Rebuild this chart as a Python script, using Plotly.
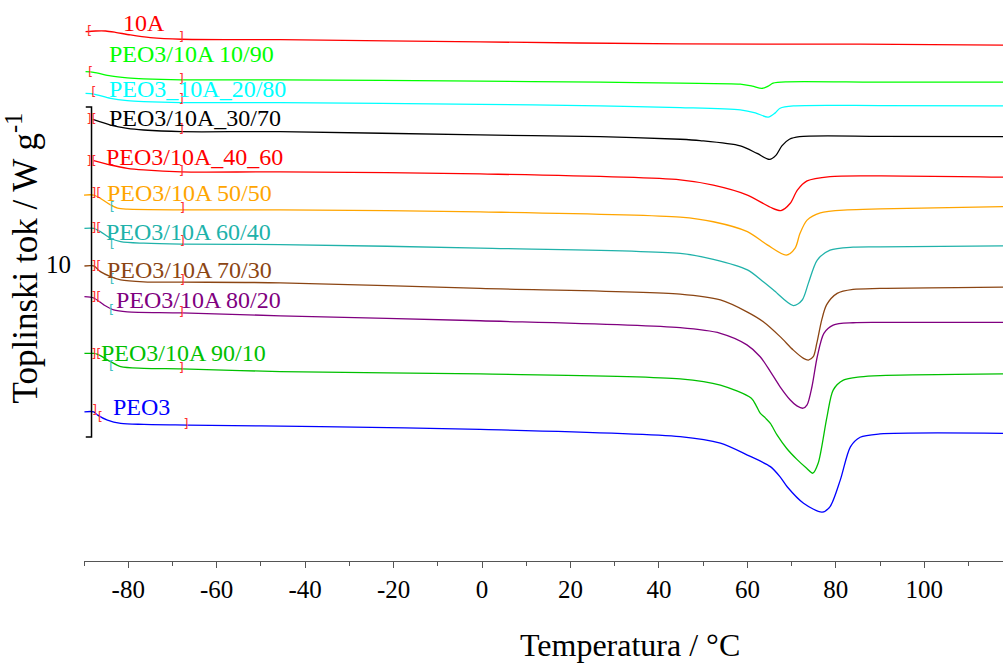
import plotly.graph_objects as go

# ---------------- data ----------------
names = ["10A", "PEO3/10A 10/90", "PEO3_10A_20/80", "PEO3/10A_30/70", "PEO3/10A_40_60",
         "PEO3/10A 50/50", "PEO3/10A 60/40", "PEO3/10A 70/30", "PEO3/10A 80/20",
         "PEO3/10A 90/10", "PEO3"]
colors = ["#FF0000", "#00FF00", "#00FFFF", "#000000", "#FF0000",
          "#FFA500", "#20B2AA", "#8B4513", "#800080", "#00C000", "#0000FF"]

# temperature (°C) and stacked heat flow (W/g, offset) for each curve
T_10A = [-89.65, -87.4, -85.1, -82.9, -79.5, -75.0, -68.0, -45.6, -0.4, 44.8, 85.5, 117.8]
Y_10A = [16.04, 16.06, 16.06, 16.02, 15.94, 15.86, 15.81, 15.80, 15.73, 15.67, 15.66, 15.63]

T_1090 = [-89.65, -87.8, -84.0, -80.2, -76.5, -68.0, -45.6, -0.4, 26.7, 44.8, 58.4, 61.1, 63.3, 64.7, 65.8, 69.0, 90.0, 117.8]
Y_1090 = [14.83, 14.81, 14.70, 14.64, 14.61, 14.58, 14.58, 14.54, 14.51, 14.48, 14.45, 14.39, 14.32, 14.39, 14.48, 14.52, 14.51, 14.51]

T_2080 = [-89.65, -87.8, -84.0, -80.2, -76.5, -68.0, -45.6, -0.4, 26.7, 44.8, 58.4, 61.8, 64.7, 66.3, 67.4, 70.4, 90.0, 117.8]
Y_2080 = [14.17, 14.15, 14.02, 13.95, 13.92, 13.89, 13.89, 13.84, 13.79, 13.74, 13.67, 13.58, 13.45, 13.58, 13.72, 13.79, 13.80, 13.79]

T_3070 = [-88.0, -84.0, -80.2, -76.5, -68.0, -45.6, -0.4, 26.7, 44.8, 49.3, 58.4, 62.2, 65.0, 66.5, 67.8, 69.5, 71.8, 90.0, 117.8]
Y_3070 = [13.38, 13.21, 13.11, 13.06, 13.01, 13.01, 12.91, 12.86, 12.78, 12.74, 12.58, 12.35, 12.17, 12.30, 12.58, 12.78, 12.86, 12.87, 12.86]

T_4060 = [-87.8, -84.0, -80.2, -76.5, -68.0, -45.6, -0.4, 44.8, 52.3, 60.0, 65.2, 67.6, 69.7, 71.3, 73.5, 78.7, 90.0, 117.8]
Y_4060 = [12.13, 12.00, 11.90, 11.85, 11.79, 11.79, 11.73, 11.55, 11.39, 11.09, 10.72, 10.62, 10.84, 11.24, 11.52, 11.65, 11.67, 11.63]

T_5050 = [-90.0, -87.8, -86.3, -84.0, -82.4, -80.2, -68.0, -45.6, -0.4, 44.8, 52.3, 60.0, 64.5, 68.8, 70.8, 71.9, 73.5, 76.5, 82.6, 90.0, 117.8]
Y_5050 = [11.09, 11.09, 10.99, 10.79, 10.69, 10.66, 10.64, 10.64, 10.58, 10.42, 10.28, 9.98, 9.58, 9.27, 9.48, 9.93, 10.33, 10.55, 10.64, 10.67, 10.74]

T_6040 = [-89.9, -87.8, -86.3, -84.0, -81.7, -76.5, -68.0, -45.6, -0.4, 44.8, 52.3, 60.0, 63.6, 65.9, 70.4, 72.4, 73.8, 75.8, 78.7, 83.9, 90.0, 117.8]
Y_6040 = [10.08, 10.08, 9.98, 9.78, 9.68, 9.63, 9.60, 9.59, 9.48, 9.32, 9.14, 8.82, 8.46, 8.21, 7.74, 7.91, 8.42, 9.12, 9.42, 9.51, 9.52, 9.55]

T_7030 = [-89.9, -87.8, -86.3, -84.0, -81.7, -76.5, -68.0, -45.6, -0.4, 44.8, 53.9, 59.9, 63.6, 67.4, 70.4, 72.7, 73.8, 74.9, 75.7, 76.8, 77.9, 80.3, 83.9, 90.0, 117.8]
Y_7030 = [8.94, 8.94, 8.77, 8.62, 8.52, 8.46, 8.45, 8.43, 8.26, 8.09, 7.91, 7.55, 7.25, 6.80, 6.39, 6.14, 6.09, 6.19, 6.60, 7.30, 7.76, 8.11, 8.23, 8.26, 8.30]

T_8020 = [-89.9, -87.8, -85.5, -83.3, -80.2, -68.0, -45.6, -0.4, 44.8, 53.9, 59.9, 62.9, 65.2, 67.4, 69.7, 71.2, 72.6, 73.5, 74.6, 75.8, 77.3, 79.4, 83.9, 90.0, 117.8]
Y_8020 = [8.01, 7.97, 7.76, 7.61, 7.55, 7.52, 7.43, 7.28, 7.07, 6.90, 6.55, 6.19, 5.74, 5.28, 4.88, 4.70, 4.63, 4.73, 5.28, 6.19, 6.90, 7.15, 7.22, 7.23, 7.23]

T_9010 = [-89.9, -87.8, -86.9, -84.0, -81.7, -76.5, -68.0, -45.6, -0.4, 44.8, 53.9, 60.9, 62.1, 62.9, 64.1, 65.2, 66.7, 68.9, 71.2, 73.4, 74.8, 76.0, 78.0, 79.4, 81.7, 85.5, 90.0, 117.8]
Y_9010 = [6.29, 6.29, 6.26, 6.04, 5.89, 5.84, 5.82, 5.74, 5.67, 5.52, 5.33, 4.93, 4.68, 4.48, 4.33, 4.17, 3.82, 3.41, 3.08, 2.81, 2.66, 2.96, 4.37, 5.18, 5.48, 5.58, 5.62, 5.67]

T_PEO3 = [-89.9, -87.8, -86.9, -84.7, -81.7, -76.5, -66.6, -36.5, -0.4, 44.8, 53.9, 60.0, 65.2, 67.4, 69.0, 72.7, 76.9, 78.7, 81.0, 83.3, 85.5, 90.0, 117.8]
Y_PEO3 = [4.52, 4.52, 4.42, 4.27, 4.17, 4.14, 4.12, 4.07, 3.99, 3.77, 3.57, 3.21, 2.86, 2.55, 2.25, 1.75, 1.48, 1.65, 2.45, 3.46, 3.75, 3.85, 3.87]

curve_T = [T_10A, T_1090, T_2080, T_3070, T_4060, T_5050, T_6040, T_7030, T_8020, T_9010, T_PEO3]
curve_Y = [Y_10A, Y_1090, Y_2080, Y_3070, Y_4060, Y_5050, Y_6040, Y_7030, Y_8020, Y_9010, Y_PEO3]

# curve label anchors (left edge, centre)
label_T = [-81.6, -84.8, -84.8, -84.8, -85.4, -85.2, -85.4, -85.2, -83.2, -86.6, -83.9]
label_Y = [16.30, 15.36, 14.30, 13.42, 12.25, 11.15, 9.97, 8.82, 7.91, 6.30, 4.68]

# integration-limit bracket glyphs drawn by the instrument software
br_T = [-90.33, -88.75, -68.0,
        -90.33, -88.5, -68.0,
        -90.33, -87.8, -68.0,
        -90.33, -88.3, -68.0,
        -90.33, -88.3, -68.0,
        -90.33, -87.2, -83.6, -67.8,
        -90.33, -87.2, -83.6, -67.8,
        -90.33, -87.2, -83.6, -67.8,
        -90.33, -87.2, -83.8, -68.0,
        -90.33, -87.2, -83.8, -68.0,
        -90.33, -87.6, -86.3, -66.9]
br_Y = [16.03, 16.03, 15.85,
        14.79, 14.79, 14.58,
        14.15, 14.18, 13.97,
        13.36, 13.36, 13.06,
        12.09, 12.09, 11.79,
        11.12, 11.12, 10.70, 10.67,
        10.09, 10.06, 9.58, 9.67,
        8.94, 8.91, 8.52, 8.48,
        8.00, 7.97, 7.58, 7.52,
        6.27, 6.24, 5.88, 5.82,
        4.52, 4.55, 4.33, 4.12]
br_txt = ["[]", "[", "]",
          "[]", "[", "]",
          "[]", "[", "]",
          "[]", "][", "]",
          "[]", "][", "]",
          "[", "][", "[", "]",
          "[", "][", "[", "]",
          "[", "][", "[", "]",
          "[", "][", "[", "]",
          "[", "][", "[", "]",
          "[", "]", "[", "]"]
br_col = ["#FF3030"] * 15 + ["#FF3030", "#FF3030", "#40C0C0", "#FF3030"] * 5 + ["#FF3030"] * 4

# scale bar (10 W/g)
bar_T = [-89.6, -88.3, -88.3, -89.6]
bar_Y = [13.76, 13.76, 3.76, 3.76]
bar_label = "10"

tick_vals = [-80, -60, -40, -20, 0, 20, 40, 60, 80, 100]
tick_text = ["-80", "-60", "-40", "-20", "0", "20", "40", "60", "80", "100"]
minor_vals = [-90, -70, -50, -30, -10, 10, 30, 50, 70, 90, 110]

FONT = "Liberation Serif, Times New Roman, serif"

fig = go.Figure()
for T, Y, c, n in zip(curve_T, curve_Y, colors, names):
    fig.add_trace(go.Scatter(x=T, y=Y, mode="lines", name=n,
                             line=dict(color=c, width=1.3, shape="spline", smoothing=0.8),
                             hoverinfo="skip"))

fig.add_trace(go.Scatter(x=bar_T, y=bar_Y, mode="lines",
                         line=dict(color="black", width=1.5), hoverinfo="skip"))

fig.add_trace(go.Scatter(x=br_T, y=br_Y, mode="text", text=br_txt,
                         textfont=dict(family="DejaVu Sans", size=13, color=br_col),
                         textposition="middle center", cliponaxis=False, hoverinfo="skip"))

for n, c, tx, ty in zip(names, colors, label_T, label_Y):
    fig.add_annotation(x=tx, y=ty, xref="x", yref="y", text=n, showarrow=False,
                       xanchor="left", yanchor="middle",
                       font=dict(family=FONT, size=24, color=c))

fig.add_annotation(x=-0.012, y=9.0, xref="paper", yref="y", text=bar_label, showarrow=False,
                   xanchor="right", yanchor="middle", font=dict(family=FONT, size=25, color="black"))

fig.add_annotation(x=-0.067, y=0.54, xref="paper", yref="paper",
                   text="Toplinski tok / W g<sup>-1</sup>", textangle=-90, showarrow=False,
                   xanchor="center", yanchor="middle", font=dict(family=FONT, size=35, color="black"))

fig.add_annotation(x=0.594, y=-0.15, xref="paper", yref="paper",
                   text="Temperatura / °C", showarrow=False,
                   xanchor="center", yanchor="middle", font=dict(family=FONT, size=32, color="black"))

fig.update_xaxes(range=[-90, 117.8], showline=True, linecolor="#555555", linewidth=1.2,
                 ticks="outside", ticklen=6, tickwidth=1.2, tickcolor="#555555",
                 tickmode="array", tickvals=tick_vals, ticktext=tick_text,
                 tickfont=dict(family=FONT, size=25, color="black"),
                 ticklabelstandoff=0,
                 minor=dict(tickmode="array", tickvals=minor_vals, ticklen=4,
                            tickwidth=1.2, tickcolor="#555555", showgrid=False),
                 showgrid=False, zeroline=False)
fig.update_yaxes(range=[0, 17], visible=False, showgrid=False, zeroline=False)

fig.update_layout(width=1003, height=664, margin=dict(l=84, r=0, t=0, b=103),
                  plot_bgcolor="white", paper_bgcolor="white", showlegend=False,
                  font=dict(family=FONT))

fig.write_html("out.html", config={"displayModeBar": False},
               post_script="document.body.style.margin='0px';document.body.style.overflow='hidden';")
